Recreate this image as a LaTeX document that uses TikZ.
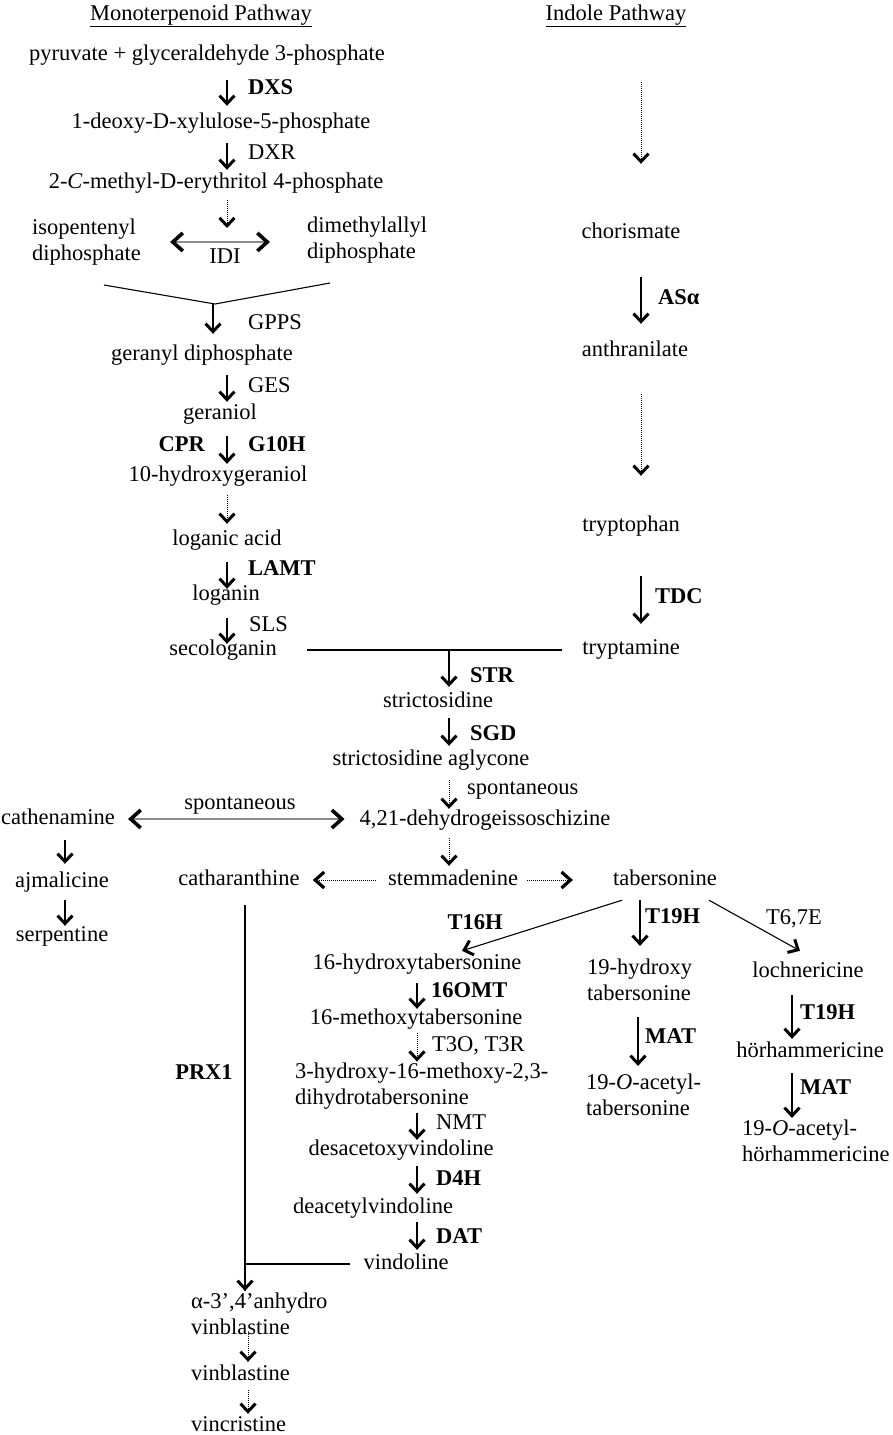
\documentclass[tikz,border=0pt]{standalone}
\usepackage{fontspec}
\setmainfont{Liberation Serif}
\usetikzlibrary{arrows.meta,calc}
\newcommand\fsz{\fontsize{22.5}{26}\selectfont}
\begin{document}
\begin{tikzpicture}[x=1pt,y=-1pt,
  every node/.style={font=\fsz},
  t/.style={inner sep=0pt, text height=15pt, text depth=5pt, yshift=-2pt},
  ml/.style={inner sep=0pt, align=left, anchor=west, yshift=-2pt},
  en/.style={t, yshift=2pt, anchor=west, font=\fsz\bfseries},
  er/.style={t, yshift=2pt, anchor=west},
  chev/.style={-{Straight Barb[length=8pt,width=15pt,line width=3pt]}},
  arr/.style={line width=1.5pt, chev},
  larr/.style={line width=1.1pt, chev},
  darr/.style={line width=0.9pt, dash pattern=on 1pt off 1pt, chev},
  dbl/.style={line width=1.2pt, draw=black!45, {Straight Barb[length=10pt,width=18pt,line width=3.6pt,color=black]}-{Straight Barb[length=10pt,width=18pt,line width=3.6pt,color=black]}},
  ddl/.style={line width=0.9pt, dash pattern=on 1pt off 1pt, -{Straight Barb[length=9pt,width=16pt,line width=3.2pt]}},
  ln/.style={line width=1.1pt}
]
\useasboundingbox (0,0) rectangle (892,1435);
% columns
\coordinate (cA) at (227,0);
\coordinate (cG) at (213,0);
\coordinate (cS) at (449,0);
\coordinate (cI) at (641,0);
\coordinate (cC) at (65,0);
\coordinate (cV) at (417,0);
\coordinate (cP) at (245,0);
\coordinate (cQ) at (248,0);
\coordinate (cT) at (640,0);
\coordinate (cM) at (638,0);
\coordinate (cR) at (792,0);

% titles
\node[t] (tMono) at (201,13) {\underline{Monoterpenoid Pathway}};
\node[t] (tInd) at (616,13) {\underline{Indole Pathway}};

% monoterpenoid pathway
\node[t] (pyr) at (207,53) {pyruvate + glyceraldehyde 3-phosphate};
\node[t] (dxp) at (221,121) {1-deoxy-D-xylulose-5-phosphate};
\node[t] (mep) at (216,181) {2-\textit{C}-methyl-D-erythritol 4-phosphate};
\node[ml] (ipp) at (32,240) {isopentenyl\\diphosphate};
\node[ml] (dma) at (307,238) {dimethylallyl\\diphosphate};
\node[t] (idi) at (225,256) {IDI};
\coordinate (idm) at (227,239);
\coordinate (vl) at (104,285);
\coordinate (vm) at (215,304);
\coordinate (vr) at (330,283);
\node[t] (gpp) at (202,353) {geranyl diphosphate};
\node[t] (ger) at (220,412) {geraniol};
\node[t] (hg) at (218,474) {10-hydroxygeraniol};
\node[t] (la) at (227,538) {loganic acid};
\node[t] (lg) at (226,593) {loganin};
\node[t] (sec) at (223,648) {secologanin};

\node[en] (lDXS) at (248,89) {DXS};
\node[er] (lDXR) at (248,154) {DXR};
\node[er] (lGPPS) at (248,324) {GPPS};
\node[er] (lGES) at (248,387) {GES};
\node[t, yshift=2pt, anchor=east, font=\fsz\bfseries] (lCPR) at (205,446) {CPR};
\node[en] (lG10H) at (248,446) {G10H};
\node[en] (lLAMT) at (248,570) {LAMT};
\node[er] (lSLS) at (249,626) {SLS};

\draw[arr, shorten <=15pt, shorten >=7pt] (pyr.south -| cA) -- (dxp.north -| cA);
\draw[arr, shorten <=10pt, shorten >=3pt] (dxp.south -| cA) -- (mep.north -| cA);
\draw[darr, shorten <=7pt, shorten >=11pt] (mep.south -| idm) -- (idm);
\draw[dbl, shorten <=29pt, shorten >=37pt] (ipp.east) -- (ipp.east -| dma.west);
\draw[ln] (vl) -- (vm) -- (vr);
\draw[arr, shorten >=11pt] (vm -| cG) -- (gpp.north -| cG);
\draw[arr, shorten <=10pt, shorten >=2pt] (gpp.south -| cA) -- (ger.north -| cA);
\draw[arr, shorten <=12pt, shorten >=2pt] (ger.south -| cA) -- (hg.north -| cA);
\draw[darr, shorten <=9pt, shorten >=6pt] (hg.south -| cA) -- (la.north -| cA);
\draw[arr, shorten <=12pt, shorten >=-4pt] (la.south -| cA) -- (lg.north -| cA);
\draw[arr, shorten <=13pt, shorten >=-4pt] (lg.south -| cA) -- (sec.north -| cA);

% indole pathway
\node[t] (chor) at (631,231) {chorismate};
\node[t] (anth) at (635,349) {anthranilate};
\node[t] (tryp) at (631,524) {tryptophan};
\node[t] (tpm) at (631,647) {tryptamine};
\node[en] (lAS) at (658,299) {ASα};
\node[en] (lTDC) at (655,598) {TDC};

\draw[darr, shorten <=57pt, shorten >=59pt] (tInd.south -| cI) -- (chor.north -| cI);
\draw[larr, shorten <=34pt, shorten >=17pt] (chor.south -| cI) -- (anth.north -| cI);
\draw[darr, shorten <=33pt, shorten >=40pt] (anth.south -| cI) -- (tryp.north -| cI);
\draw[larr, shorten <=40pt, shorten >=15pt] (tryp.south -| cI) -- (tpm.north -| cI);

% join
\coordinate (jn) at (449,650);
\draw[ln, shorten <=30pt, shorten >=20pt] (sec.east |- jn) -- (tpm.west |- jn);
\node[t] (stc) at (438,700) {strictosidine};
\node[t] (sag) at (431,758) {strictosidine aglycone};
\node[t] (dhg) at (485,818) {4,21-dehydrogeissoschizine};
\node[t] (stem) at (453,878) {stemmadenine};
\node[t] (cat) at (239,878) {catharanthine};
\node[t] (tab) at (665,878) {tabersonine};
\node[en] (lSTR) at (470,677) {STR};
\node[en] (lSGD) at (470,735) {SGD};
\node[er] (lsp1) at (467,789) {spontaneous};

\draw[arr, shorten >=5pt] (jn) -- (stc.north -| jn);
\draw[arr, shorten <=6pt, shorten >=4pt] (stc.south -| cS) -- (sag.north -| cS);
\draw[darr, shorten <=10pt, shorten >=1pt] (sag.south -| cS) -- (dhg.north -| cS);
\draw[darr, shorten <=8pt, shorten >=4pt] (dhg.south -| cS) -- (stem.north -| cS);
\draw[ddl, shorten <=12pt, shorten >=13pt] (stem.west) -- (cat.east);
\draw[ddl, shorten <=9pt, shorten >=40pt] (stem.east) -- (tab.west);

% left branch
\node[t] (cathe) at (58,817) {cathenamine};
\node[t] (ajm) at (62,880) {ajmalicine};
\node[t] (serp) at (62,934) {serpentine};
\node[t] (lsp2) at (240,802) {spontaneous};
\draw[dbl, shorten <=13pt, shorten >=15pt] (cathe.east) -- (cathe.east -| dhg.west);
\draw[arr, shorten <=11pt, shorten >=8pt] (cathe.south -| cC) -- (ajm.north -| cC);
\draw[arr, shorten <=8pt, shorten >=0pt] (ajm.south -| cC) -- (serp.north -| cC);

% tabersonine branches
\node[t] (h16) at (417,962) {16-hydroxytabersonine};
\node[t] (m16) at (416,1017) {16-methoxytabersonine};
\node[ml] (hmd) at (295,1084) {3-hydroxy-16-methoxy-2,3-\\dihydrotabersonine};
\node[t] (dav) at (401,1148) {desacetoxyvindoline};
\node[t] (dacv) at (373,1206) {deacetylvindoline};
\node[t] (vind) at (406,1262) {vindoline};
\node[t, yshift=2pt, font=\fsz\bfseries] (lT16H) at (475,924) {T16H};
\node[en] (l16OMT) at (431,992) {16OMT};
\node[er] (lT3O) at (432,1046) {T3O, T3R};
\node[er] (lNMT) at (436,1124) {NMT};
\node[en] (lD4H) at (436,1180) {D4H};
\node[en] (lDAT) at (436,1238) {DAT};

\draw[larr] ([shift={(-43,10)}]tab.south) -- ([shift={(45,-3)}]h16.north);
\draw[arr, shorten <=9pt, shorten >=0pt] (h16.south -| cV) -- (m16.north -| cV);
\draw[darr, shorten <=4pt, shorten >=1pt] (m16.south -| cV) -- (hmd.north -| cV);
\draw[arr, shorten <=4pt, shorten >=0pt] (hmd.south -| cV) -- (dav.north -| cV);
\draw[arr, shorten <=6pt, shorten >=4pt] (dav.south -| cV) -- (dacv.north -| cV);
\draw[arr, shorten <=4pt, shorten >=4pt] (dacv.south -| cV) -- (vind.north -| cV);

\node[ml] (h19) at (587,978) {19-hydroxy\\tabersonine};
\node[ml] (a19) at (586,1093) {19-\textit{O}-acetyl-\\tabersonine};
\node[en] (lT19a) at (645,918) {T19H};
\node[en] (lMATa) at (645,1038) {MAT};
\draw[larr, shorten <=10pt, shorten >=13pt] (tab.south -| cT) -- (h19.north -| cT);
\draw[larr, shorten <=16pt, shorten >=8pt] (h19.south -| cM) -- (a19.north -| cM);

\node[t] (loch) at (808,970) {lochnericine};
\node[t] (hor) at (810,1050) {hörhammericine};
\node[ml] (ahor) at (742,1139) {19-\textit{O}-acetyl-\\hörhammericine};
\node[er] (lT67E) at (766,919) {T6,7E};
\node[en] (lT19b) at (800,1014) {T19H};
\node[en] (lMATb) at (800,1089) {MAT};
\draw[larr] ([shift={(44,10)}]tab.south) -- ([shift={(-8,-11)}]loch.north);
\draw[larr, shorten <=13pt, shorten >=3pt] (loch.south -| cR) -- (hor.north -| cR);
\draw[larr, shorten <=11pt, shorten >=2pt] (hor.south -| cR) -- (ahor.north -| cR);

% vinblastine
\node[ml] (avb) at (191,1312) {α-3’,4’anhydro\\vinblastine};
\node[t, anchor=west] (vbl) at (191,1373) {vinblastine};
\node[t, anchor=west] (vcr) at (191,1424) {vincristine};
\node[t, yshift=2pt, font=\fsz\bfseries] (lPRX) at (204,1074) {PRX1};
\coordinate (pj) at (vind.west -| cP);
\draw[ln, shorten <=15pt, shorten >=2pt] (cat.south -| cP) -- (avb.north -| cP);
\draw[arr, shorten <=-6pt, shorten >=2pt] (pj) -- (avb.north -| cP);
\draw[ln, shorten <=13pt] (vind.west) -- (pj);
\draw[darr, shorten <=-1pt, shorten >=3pt] (avb.south -| cQ) -- (vbl.north -| cQ);
\draw[darr, shorten <=5pt, shorten >=2pt] (vbl.south -| cQ) -- (vcr.north -| cQ);
\end{tikzpicture}
\end{document}
